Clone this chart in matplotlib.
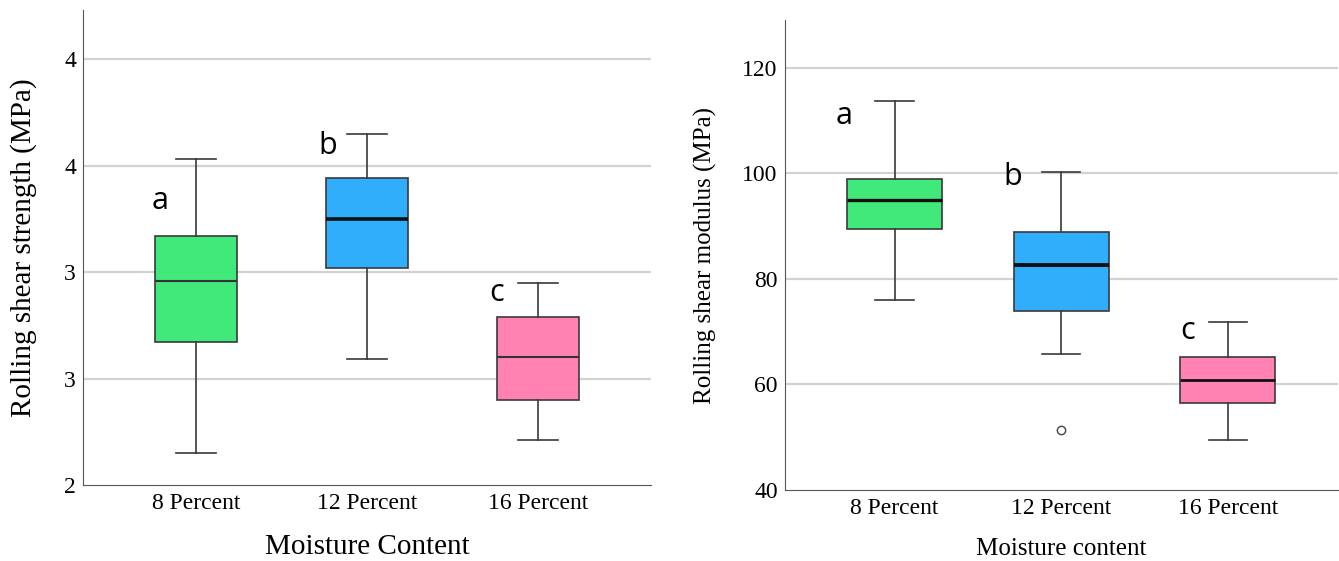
import matplotlib
matplotlib.use("Agg")
import matplotlib.pyplot as plt

groups = ["8 Percent", "12 Percent", "16 Percent"]
letters = ["a", "b", "c"]
colours = ["#41E87A", "#30AEFB", "#FF82B3"]

# rolling shear strength (MPa): whislo, q1, med, q3, whishi
strength_lo = [2.15, 2.59, 2.21]
strength_q1 = [2.67, 3.02, 2.40]
strength_med = [2.96, 3.25, 2.60]
strength_q3 = [3.17, 3.44, 2.79]
strength_hi = [3.53, 3.65, 2.95]
strength_ticks = [2, 2.5, 3, 3.5, 4]
strength_ticklabels = ["2", "3", "3", "4", "4"]

# rolling shear modulus (MPa)
modulus_lo = [75.9, 65.7, 49.5]
modulus_q1 = [89.5, 74.0, 56.4]
modulus_med = [95.0, 82.7, 60.8]
modulus_q3 = [99.0, 88.8, 65.1]
modulus_hi = [113.7, 100.3, 71.9]
modulus_fliers = [[], [51.3], []]
modulus_ticks = [40, 60, 80, 100, 120]

serif = "Liberation Serif"


def make_stats(lo, q1, med, q3, hi, fliers=None):
    stats = []
    for i in range(len(lo)):
        stats.append({"whislo": lo[i], "q1": q1[i], "med": med[i], "q3": q3[i],
                      "whishi": hi[i], "fliers": fliers[i] if fliers else []})
    return stats


def draw(ax, stats, width, med_widths, letter_pos, ylim, ticks, ticklabels,
         ylabel, xlabel, xlabel_size, ylabel_size, ylab_x, xlab_y):
    for y in ticks[1:]:
        ax.axhline(y, color="#d2d2d2", lw=1.6, zorder=0)
    bp = ax.bxp(stats, positions=range(len(stats)), widths=width, patch_artist=True,
                showfliers=True,
                boxprops=dict(edgecolor="#3a3a3a", linewidth=1.2),
                medianprops=dict(color="#111111", linewidth=2.0),
                whiskerprops=dict(color="#3a3a3a", linewidth=1.2),
                capprops=dict(color="#3a3a3a", linewidth=1.2),
                capwidths=0.23,
                flierprops=dict(marker="o", markersize=6, markerfacecolor="white",
                                markeredgecolor="#444444", markeredgewidth=1.0))
    for patch, c in zip(bp["boxes"], colours):
        patch.set_facecolor(c)
    for med, w in zip(bp["medians"], med_widths):
        med.set_linewidth(w)
        if w < 2:
            med.set_color("#333333")
    for i, (dx, y) in enumerate(letter_pos):
        ax.text(i + dx, y, letters[i], fontsize=22, family="Open Sans", ha="center", va="center")
    ax.set_xlim(-0.66, 2.66)
    ax.set_ylim(*ylim)
    ax.set_yticks(ticks)
    ax.set_yticklabels(ticklabels)
    ax.set_xticks(range(len(groups)))
    ax.set_xticklabels(groups)
    ax.tick_params(axis="y", length=0, labelsize=17, pad=5)
    ax.tick_params(axis="x", length=0, labelsize=17, pad=6)
    for lab in ax.get_xticklabels() + ax.get_yticklabels():
        lab.set_family(serif)
    ax.spines["top"].set_visible(False)
    ax.spines["right"].set_visible(False)
    ax.spines["left"].set_color("#555555")
    ax.spines["bottom"].set_color("#555555")
    ax.set_ylabel(ylabel, family=serif, fontsize=ylabel_size, va="center")
    ax.set_xlabel(xlabel, family=serif, fontsize=xlabel_size, va="center")
    ax.yaxis.set_label_coords(ylab_x, 0.5)
    ax.xaxis.set_label_coords(0.5, xlab_y)


fig = plt.figure(figsize=(13.39, 5.61), dpi=100)
ax1 = fig.add_axes([0.062, 0.1355, 0.424, 0.8465])
ax2 = fig.add_axes([0.586, 0.1266, 0.413, 0.8374])

draw(ax1, make_stats(strength_lo, strength_q1, strength_med, strength_q3, strength_hi),
     0.48, [1.5, 2.6, 1.5], [(-0.21, 3.335), (-0.23, 3.59), (-0.24, 2.9)], (2, 4.23),
     strength_ticks, strength_ticklabels,
     "Rolling shear strength (MPa)", "Moisture Content", 21, 21, -0.104, -0.13)

draw(ax2, make_stats(modulus_lo, modulus_q1, modulus_med, modulus_q3, modulus_hi, modulus_fliers),
     0.57, [2.4, 2.8, 2.0], [(-0.3, 110.9), (-0.29, 99.2), (-0.24, 70.2)], (40, 129),
     modulus_ticks, [str(t) for t in modulus_ticks],
     "Rolling shear modulus (MPa)", "Moisture content", 18, 18, -0.143, -0.125)

fig.savefig("out.png", dpi=100)
